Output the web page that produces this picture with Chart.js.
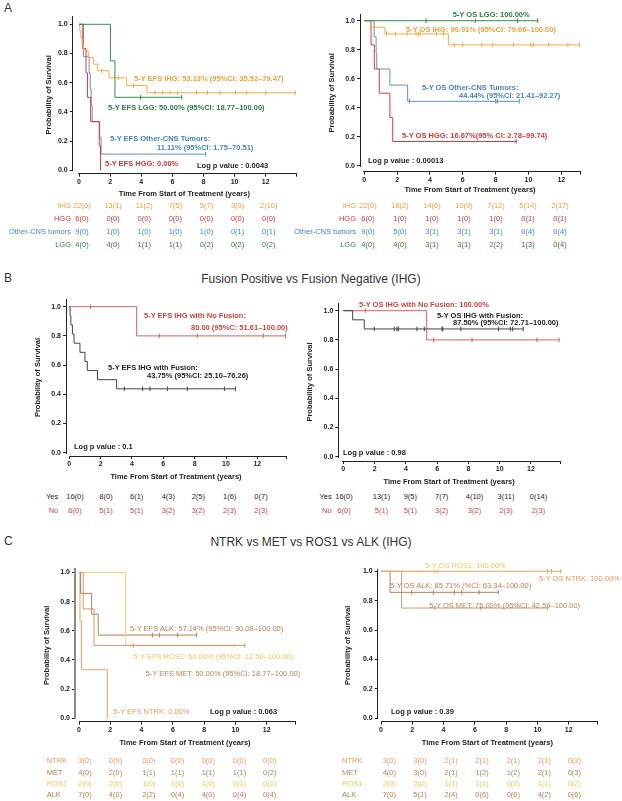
<!DOCTYPE html>
<html><head><meta charset="utf-8">
<script src="https://cdn.jsdelivr.net/npm/chart.js@4.4.1/dist/chart.umd.min.js"></script>
<style>
html,body{margin:0;padding:0;background:#fff;}
#page{position:relative;width:622px;height:801px;overflow:hidden;background:#fff;font-family:"Liberation Sans",Arial,Helvetica,sans-serif;}
canvas{position:absolute;}
.t{position:absolute;white-space:nowrap;line-height:1;}
</style></head><body><div id="page"></div>
<script>
// ================= DATA =================
const xTickValues = [0, 2, 4, 6, 8, 10, 12];
const yTickValues = [0, 0.2, 0.4, 0.6, 0.8, 1.0];
const xTitle = 'Time From Start of Treatment (years)';
const yTitle = 'Probability of Survival';
const timePoints = ['0', '2', '4', '6', '8', '10', '12'];

// Panel A – EFS (event times in years, survival after each event, censor times)
const aEfsIhgT = [0.05, 0.12, 0.2, 0.3, 0.6, 0.92, 1.2, 1.93, 3.06, 4.37];
const aEfsIhgS = [0.955, 0.909, 0.864, 0.818, 0.773, 0.727, 0.682, 0.633, 0.580, 0.531];
const aEfsIhgC = [1.45, 2.53, 3.49, 4.89, 5.36, 5.85, 6.34, 7.56, 8.25, 9.06, 10.07, 10.78, 12.0, 13.9];
const aEfsLggT = [2.02, 2.31];
const aEfsLggS = [0.75, 0.5];
const aEfsLggC = [3.96, 6.6];
const aEfsHggT = [0.25, 0.45, 0.55, 0.75, 1.3, 1.38];
const aEfsHggS = [0.833, 0.667, 0.5, 0.333, 0.167, 0];
const aEfsHggC = [];
const aEfsOthT = [0.28, 0.65, 0.72, 0.78, 0.85, 1.33, 1.42];
const aEfsOthS = [0.778, 0.667, 0.556, 0.444, 0.333, 0.222, 0.111];
const aEfsOthC = [8.14];

// Panel A – OS
const aOsIhgT = [0.4, 1.26, 5.12];
const aOsIhgS = [0.955, 0.909, 0.833];
const aOsIhgC = [1.36, 1.89, 2.6, 3.15, 3.29, 3.4, 4.4, 4.83, 5.48, 6.0, 7.15, 7.82, 9.08, 10.15, 10.3, 11.23, 12.4, 13.1];
const aOsLggT = [];
const aOsLggS = [];
const aOsLggC = [3.76, 6.76, 9.34, 10.56];
const aOsHggT = [0.41, 0.61, 0.91, 1.56, 1.73];
const aOsHggS = [0.833, 0.667, 0.5, 0.333, 0.167];
const aOsHggC = [9.25];
const aOsOthT = [0.6, 0.72, 0.76, 1.56, 2.64];
const aOsOthS = [0.889, 0.778, 0.667, 0.556, 0.444];
const aOsOthC = [2.75, 8.0, 8.1, 9.44];

// Panel B – EFS
const bEfsYesT = [0.05, 0.1, 0.2, 0.3, 0.68, 1.0, 1.15, 1.8, 3.02];
const bEfsYesS = [0.9375, 0.875, 0.8125, 0.75, 0.6875, 0.625, 0.5625, 0.5, 0.4375];
const bEfsYesC = [3.51, 4.68, 5.15, 6.26, 7.53, 9.9, 10.6];
const bEfsNoT = [4.3];
const bEfsNoS = [0.8];
const bEfsNoC = [1.36, 5.74, 8.17, 12.38, 13.8];
// Panel B – OS
const bOsYesT = [0.6, 1.34];
const bOsYesS = [0.9375, 0.875];
const bOsYesC = [1.98, 3.26, 3.43, 3.52, 4.71, 5.18, 6.31, 6.36, 7.52, 9.93, 10.68, 10.83, 11.5];
const bOsNoT = [5.33];
const bOsNoS = [0.8];
const bOsNoC = [1.41, 5.78, 8.23, 12.38, 13.8];

// Panel C – EFS
const cEfsNtrkT = [0.06, 0.15, 1.81];
const cEfsNtrkS = [0.667, 0.333, 0];
const cEfsNtrkC = [];
const cEfsMetT = [0.27, 0.96];
const cEfsMetS = [0.75, 0.5];
const cEfsMetC = [3.47, 10.6];
const cEfsRos1T = [2.98];
const cEfsRos1S = [0.5];
const cEfsRos1C = [9.93];
const cEfsAlkT = [0.1, 0.81, 1.23];
const cEfsAlkS = [0.857, 0.714, 0.571];
const cEfsAlkC = [4.69, 5.14, 6.29, 7.52];
// Panel C – OS
const cOsNtrkT = [];
const cOsNtrkS = [];
const cOsNtrkC = [10.65, 10.9, 11.5];
const cOsMetT = [1.32];
const cOsMetS = [0.75];
const cOsMetC = [3.45, 6.35, 10.65];
const cOsRos1T = [];
const cOsRos1S = [];
const cOsRos1C = [3.42, 3.62];
const cOsAlkT = [0.58];
const cOsAlkS = [0.857];
const cOsAlkC = [1.96, 3.35, 4.69, 5.16, 6.27, 7.5];

// Risk tables (number at risk (censored))
const aGroups = ['IHG', 'HGG', 'Other-CNS tumors', 'LGG'];
const aEfsRisk = [
  ['22(0)', '13(1)', '11(2)', '7(5)', '5(7)', '3(9)', '2(10)'],
  ['6(0)', '0(0)', '0(0)', '0(0)', '0(0)', '0(0)', '0(0)'],
  ['9(0)', '1(0)', '1(0)', '1(0)', '1(0)', '0(1)', '0(1)'],
  ['4(0)', '4(0)', '1(1)', '1(1)', '0(2)', '0(2)', '0(2)']
];
const aOsRisk = [
  ['22(0)', '18(2)', '14(6)', '10(9)', '7(12)', '5(14)', '2(17)'],
  ['6(0)', '1(0)', '1(0)', '1(0)', '1(0)', '0(1)', '0(1)'],
  ['9(0)', '5(0)', '3(1)', '3(1)', '3(1)', '0(4)', '0(4)'],
  ['4(0)', '4(0)', '3(1)', '3(1)', '2(2)', '1(3)', '0(4)']
];
const bGroups = ['Yes', 'No'];
const bEfsRisk = [
  ['16(0)', '8(0)', '6(1)', '4(3)', '2(5)', '1(6)', '0(7)'],
  ['6(0)', '5(1)', '5(1)', '3(2)', '3(2)', '2(3)', '2(3)']
];
const bOsRisk = [
  ['16(0)', '13(1)', '9(5)', '7(7)', '4(10)', '3(11)', '0(14)'],
  ['6(0)', '5(1)', '5(1)', '3(2)', '3(2)', '2(3)', '2(3)']
];
const cGroups = ['NTRK', 'MET', 'ROS1', 'ALK'];
const cEfsRisk = [
  ['3(0)', '0(0)', '0(0)', '0(0)', '0(0)', '0(0)', '0(0)'],
  ['4(0)', '2(0)', '1(1)', '1(1)', '1(1)', '1(1)', '0(2)'],
  ['2(0)', '2(0)', '1(0)', '1(0)', '1(0)', '0(1)', '0(1)'],
  ['7(0)', '4(0)', '2(2)', '0(4)', '4(0)', '0(4)', '0(4)']
];
const cOsRisk = [
  ['3(0)', '3(0)', '2(1)', '2(1)', '2(1)', '2(1)', '0(3)'],
  ['4(0)', '3(0)', '2(1)', '1(2)', '1(2)', '2(1)', '0(3)'],
  ['2(0)', '2(0)', '1(1)', '1(1)', '0(2)', '1(1)', '0(2)'],
  ['7(0)', '5(1)', '2(4)', '0(6)', '0(6)', '4(2)', '0(6)']
];

// Annotation texts
const aEfsNotes = ['5-Y EFS IHG: 53.13% (95%CI: 35.52\u201379.47)', '5-Y EFS LGG: 50.00% (95%CI: 18.77\u2013100.00)', '5-Y EFS Other-CNS Tumors:', '11.11% (95%CI: 1.75\u201370.51)', '5-Y EFS HGG: 0.00%', 'Log p value : 0.0043'];
const aOsNotes = ['5-Y OS LGG: 100.00%', '5-Y OS IHG: 90.91% (95%CI: 79.66\u2013100.00)', '5-Y OS Other-CNS Tumors:', '44.44% (95%CI: 21.41\u201392.27)', '5-Y OS HGG: 16.67%(95% CI: 2.78\u201399.74)', 'Log p value : 0.00013'];
const bEfsNotes = ['5-Y EFS IHG with No Fusion:', '80.00 (95%C: 51.61\u2013100.00)', '5-Y EFS IHG with Fusion:', '43.75% (95%CI: 25.10\u201376.26)', 'Log p value : 0.1'];
const bOsNotes = ['5-Y OS IHG with No Fusion: 100.00%', '5-Y OS IHG with Fusion:', '87.50% (95%CI: 72.71\u2013100.00)', 'Log p value : 0.98'];
const cEfsNotes = ['5-Y EFS ALK: 57.14% (95%CI: 30.08\u2013100.00)', '5-Y EFS ROS1: 50.00% (95%CI: 12.50\u2013100.00)', '5-Y EFS MET: 50.00% (95%CI: 18.77\u2013100.00)', '5-Y EFS NTRK: 0.00%', 'Log p value : 0.063'];
const cOsNotes = ['5-Y OS ROS1: 100.00%', '5-Y OS NTRK: 100.00%', '5-Y OS ALK: 85.71% (%CI: 63.34\u2013100.00)', '5-Y OS MET: 75.00% (95%CI: 42.59\u2013100.00)', 'Log p value : 0.39'];
const panelTitles = ['Fusion Positive vs Fusion Negative (IHG)', 'NTRK vs MET vs ROS1 vs ALK (IHG)'];

// ================= STYLE / LAYOUT =================
const FONT = '"Liberation Sans", Arial, Helvetica, sans-serif';
const COL = {
  ihg: '#eeaa44', ihgT: '#e9a23b', lgg: '#2f8f4f', lggT: '#2e7d45', hgg: '#e0363c', hggT: '#d4343a',
  oth: '#5b93c9', othT: '#4683bd', fus: '#444444', nof: '#d9605a', nofT: '#c9453f',
  ntrk: '#f0a060', ntrkT: '#e39a62', met: '#c79a6e', metT: '#b3855a', ros: '#f5d27a', rosT: '#f0c55a',
  alk: '#b97d55', alkT: '#c27b4d', ink: '#1e1e1e'
};
const gAL = {X0: 79, PX: 15.56, Y1: 24.3, Y0: 170.3, axX: 72.7, axY: 173.7, top: 15.7, end: 295.7, ytX: 48, xtY: 193.5};
const gAR = {X0: 364.3, PX: 16.42, Y1: 20.7, Y0: 165.7, axX: 360, axY: 171.7, top: 14, end: 580.3, ytX: 331, xtY: 189.5};
const gBL = {X0: 69.3, PX: 15.67, Y1: 306.7, Y0: 452.7, axX: 66, axY: 456, top: 299, end: 285.7, ytX: 37, xtY: 476.7};
const gBR = {X0: 343.3, PX: 15.64, Y1: 310.7, Y0: 456.7, axX: 338.3, axY: 461, top: 303.3, end: 559.7, ytX: 309, xtY: 481};
const gCL = {X0: 79, PX: 15.64, Y1: 572.5, Y0: 718.3, axX: 75, axY: 721.7, top: 569, end: 295, ytX: 46.7, xtY: 742.3};
const gCR = {X0: 381, PX: 15.64, Y1: 571.3, Y0: 718.3, axX: 377.7, axY: 721.7, top: 569, end: 597, ytX: 347.7, xtY: 742.3};

const page = document.getElementById('page');
function txt(s, x, y, o) {
  o = o || {};
  const d = document.createElement('div');
  d.className = 't';
  d.textContent = s;
  const f = o.size || 7.5;
  d.style.fontSize = f + 'px';
  d.style.fontWeight = o.weight || 'bold';
  d.style.color = o.color || COL.ink;
  d.style.top = (y - 0.49 * f) + 'px';
  d.style.left = x + 'px';
  if (o.align === 'right') d.style.transform = 'translateX(-100%)';
  else if (o.align === 'center') d.style.transform = 'translateX(-50%)';
  page.appendChild(d);
}

function kmPoints(t, s, c) {
  const pts = [{x: 0, y: 1}];
  t.forEach((v, i) => pts.push({x: v, y: s[i]}));
  const lastT = t.length ? t[t.length - 1] : 0;
  const lastC = c.length ? Math.max.apply(null, c) : 0;
  const lastS = s.length ? s[s.length - 1] : 1;
  if (lastC > lastT) pts.push({x: lastC, y: lastS});
  return pts;
}
function survAt(t, s, x) { let v = 1; t.forEach((ti, i) => { if (ti <= x) v = s[i]; }); return v; }
function curveSets(cv) {
  return [
    {data: kmPoints(cv.t, cv.s, cv.c), borderColor: cv.color, borderWidth: 1, pointRadius: 0, stepped: true, fill: false, clip: false},
    {data: cv.c.map(x => ({x: x, y: survAt(cv.t, cv.s, x)})), showLine: false, pointStyle: 'line', rotation: 90,
     pointRadius: 2.3, pointBorderWidth: 1, borderColor: cv.color, pointBorderColor: cv.color, backgroundColor: cv.color, clip: false}
  ];
}

// detaches the two axis lines at the origin corner (range-frame look)
const detachAxes = {
  id: 'detachAxes',
  afterDraw(chart) {
    const {ctx, chartArea, scales} = chart;
    const x0 = scales.x.getPixelForValue(0);
    const y0 = scales.y.getPixelForValue(0);
    const w = (scales.y.options.border.width || 1) + 3;
    ctx.clearRect(chartArea.left - w, chartArea.bottom - 1.5, x0 - 1 - (chartArea.left - w), 3);
    ctx.clearRect(chartArea.left - w / 2 - 1, y0 + 1, w + 2, chartArea.bottom + 2 - (y0 + 1));
  }
};

function makeKM(g, curves, yBorder) {
  const L = Math.round(g.ytX - 4.5), T = Math.round(g.top - 8), R = Math.round(g.end + 8), B = Math.round(g.xtY + 4.5);
  const cv = document.createElement('canvas');
  cv.width = R - L; cv.height = B - T;
  cv.style.left = L + 'px'; cv.style.top = T + 'px';
  cv.style.width = (R - L) + 'px'; cv.style.height = (B - T) + 'px';
  page.appendChild(cv);
  const yW = g.axX - L, xH = B - g.axY;
  const xmin = (g.axX - g.X0) / g.PX, xmax = (R - 8 - g.X0) / g.PX;
  const span = g.Y0 - g.Y1;
  const ymin = (g.Y0 - g.axY) / span, ymax = (g.Y0 - (T + 8)) / span;
  const ax = '#222';
  const tickFont = {family: FONT, size: 7, weight: 'bold'};
  const titleFont = {family: FONT, size: 7.5, weight: 'bold', lineHeight: 1.2};
  new Chart(cv, {
    type: 'line',
    data: {datasets: curves.flatMap(curveSets)},
    plugins: [detachAxes],
    options: {
      responsive: false, animation: false, devicePixelRatio: 1, events: [],
      layout: {padding: {top: 8, right: 8, left: 0, bottom: 0}},
      plugins: {legend: {display: false}, tooltip: {enabled: false}},
      scales: {
        x: {
          type: 'linear', position: 'bottom', min: xmin, max: xmax,
          afterFit: s => { s.height = xH; },
          afterBuildTicks: s => { s.ticks = xTickValues.concat([xmax]).map(v => ({value: v})); },
          ticks: {autoSkip: false, maxRotation: 0, padding: 1, color: ax, font: tickFont,
                  callback: (v, i) => (i < timePoints.length ? timePoints[i] : '')},
          grid: {drawOnChartArea: false, drawTicks: true, tickLength: 3, color: ax, lineWidth: 1},
          border: {display: true, color: ax, width: 1},
          title: {display: true, text: xTitle, color: ax, font: titleFont, padding: 0}
        },
        y: {
          type: 'linear', position: 'left', min: ymin, max: ymax,
          afterFit: s => { s.width = yW; },
          afterBuildTicks: s => { s.ticks = yTickValues.map(v => ({value: v})); },
          ticks: {autoSkip: false, padding: 2, color: ax, font: tickFont, callback: v => Number(v).toFixed(1)},
          grid: {drawOnChartArea: false, drawTicks: true, tickLength: 3, color: ax, lineWidth: 1},
          border: yBorder || {display: true, color: ax, width: 1},
          title: {display: true, text: yTitle, color: ax, font: titleFont, padding: 0}
        }
      }
    }
  });
}

function riskTable(groups, rows, rowY, colX, colors, labelX, labelAlign) {
  groups.forEach((gname, r) => {
    txt(gname, labelX, rowY[r], {size: 7.5, weight: 'normal', color: colors[r], align: labelAlign});
    rows[r].forEach((v, k) => txt(v, colX[k], rowY[r], {size: 7.5, weight: 'normal', color: colors[r], align: 'center'}));
  });
}

// ================= PANEL A =================
txt('A', 4, 8, {size: 12, weight: 'normal', color: '#333'});
makeKM(gAL, [
  {t: aEfsLggT, s: aEfsLggS, c: aEfsLggC, color: COL.lgg},
  {t: aEfsIhgT, s: aEfsIhgS, c: aEfsIhgC, color: COL.ihg},
  {t: aEfsHggT, s: aEfsHggS, c: aEfsHggC, color: COL.hgg},
  {t: aEfsOthT, s: aEfsOthS, c: aEfsOthC, color: COL.oth}
]);
makeKM(gAR, [
  {t: aOsLggT, s: aOsLggS, c: aOsLggC, color: COL.lgg},
  {t: aOsIhgT, s: aOsIhgS, c: aOsIhgC, color: COL.ihg},
  {t: aOsOthT, s: aOsOthS, c: aOsOthC, color: COL.oth},
  {t: aOsHggT, s: aOsHggS, c: aOsHggC, color: COL.hgg}
]);
txt(aEfsNotes[0], 134, 79, {color: COL.ihgT});
txt(aEfsNotes[1], 108, 108, {color: COL.lggT});
txt(aEfsNotes[2], 110, 139, {color: COL.othT});
txt(aEfsNotes[3], 157, 148, {color: COL.othT});
txt(aEfsNotes[4], 105, 164, {color: COL.hggT});
txt(aEfsNotes[5], 197, 166);
txt(aOsNotes[0], 452.7, 14.3, {color: COL.lggT});
txt(aOsNotes[1], 406, 30, {color: COL.ihgT});
txt(aOsNotes[2], 422, 87.3, {color: COL.othT});
txt(aOsNotes[3], 459, 96, {color: COL.othT});
txt(aOsNotes[4], 402, 135.7, {color: COL.hggT});
txt(aOsNotes[5], 368, 160.3);

const aRowY = [205.5, 218.5, 231.5, 244.5];
const aColors = [COL.ihgT, COL.hggT, COL.othT, COL.lggT];
const aLeftCols = xTickValues.map((v, k) => 82 + 31.12 * k);
const aRightCols = xTickValues.map((v, k) => 368 + 32 * k);
riskTable(aGroups, aEfsRisk, aRowY, aLeftCols, aColors, 71, 'right');
riskTable(aGroups, aOsRisk, aRowY, aRightCols, aColors, 356, 'right');

// ================= PANEL B =================
txt('B', 4, 278, {size: 12, weight: 'normal', color: '#333'});
txt(panelTitles[0], 311, 279, {size: 12, weight: 'normal', color: '#333', align: 'center'});
makeKM(gBL, [
  {t: bEfsYesT, s: bEfsYesS, c: bEfsYesC, color: COL.fus},
  {t: bEfsNoT, s: bEfsNoS, c: bEfsNoC, color: COL.nof}
]);
makeKM(gBR, [
  {t: bOsYesT, s: bOsYesS, c: bOsYesC, color: COL.fus},
  {t: bOsNoT, s: bOsNoS, c: bOsNoC, color: COL.nof}
]);
txt(bEfsNotes[0], 144, 316, {color: COL.nofT});
txt(bEfsNotes[1], 191, 327.3, {color: COL.nofT});
txt(bEfsNotes[2], 108, 367.3);
txt(bEfsNotes[3], 147, 376);
txt(bEfsNotes[4], 74, 446.7);
txt(bOsNotes[0], 359, 304.7, {color: COL.nofT});
txt(bOsNotes[1], 437, 315.3);
txt(bOsNotes[2], 453, 322.7);
txt(bOsNotes[3], 343, 452.7);
const bRowY = [496.5, 511];
const bColors = [COL.ink, COL.nofT];
riskTable(bGroups, bEfsRisk, bRowY, [75, 106, 136.7, 168.3, 198.3, 229.7, 261], bColors, 58.3, 'right');
riskTable(bGroups, bOsRisk, bRowY, [344, 381.5, 410.3, 441.7, 474.5, 506, 538.5], bColors, 331.7, 'right');

// ================= PANEL C =================
txt('C', 4, 541, {size: 12, weight: 'normal', color: '#333'});
txt(panelTitles[1], 311, 542, {size: 12, weight: 'normal', color: '#333', align: 'center'});
makeKM(gCL, [
  {t: cEfsMetT, s: cEfsMetS, c: cEfsMetC, color: COL.met},
  {t: cEfsRos1T, s: cEfsRos1S, c: cEfsRos1C, color: COL.ros},
  {t: cEfsAlkT, s: cEfsAlkS, c: cEfsAlkC, color: COL.alk},
  {t: cEfsNtrkT, s: cEfsNtrkS, c: cEfsNtrkC, color: COL.ntrk}
], {display: true, color: '#8a8a8a', width: 2});
makeKM(gCR, [
  {t: cOsNtrkT, s: cOsNtrkS, c: cOsNtrkC, color: COL.ntrk},
  {t: cOsRos1T, s: cOsRos1S, c: cOsRos1C, color: COL.ros},
  {t: cOsAlkT, s: cOsAlkS, c: cOsAlkC, color: COL.alk},
  {t: cOsMetT, s: cOsMetS, c: cOsMetC, color: COL.met}
]);
txt(cEfsNotes[0], 130, 628.3, {color: COL.alkT, weight: 'normal'});
txt(cEfsNotes[1], 133.3, 656.7, {color: COL.rosT, weight: 'normal'});
txt(cEfsNotes[2], 145.7, 673.3, {color: COL.metT, weight: 'normal'});
txt(cEfsNotes[3], 113.3, 711.7, {color: COL.ntrkT, weight: 'normal'});
txt(cEfsNotes[4], 210, 711.7);
txt(cOsNotes[0], 425, 565.5, {color: COL.rosT, weight: 'normal'});
txt(cOsNotes[1], 539, 578.3, {color: COL.ntrkT, weight: 'normal'});
txt(cOsNotes[2], 390, 586, {color: COL.alkT, weight: 'normal'});
txt(cOsNotes[3], 429.3, 605.7, {color: COL.metT, weight: 'normal'});
txt(cOsNotes[4], 391, 711.7);
const cRowY = [760.7, 772.3, 783.7, 795];
const cColors = [COL.ntrkT, COL.metT, COL.rosT, COL.alkT];
riskTable(cGroups, cEfsRisk, cRowY, [85, 115.5, 148.8, 177.5, 208.3, 239.5, 269.7], cColors, 46.7, 'left');
riskTable(cGroups, cOsRisk, cRowY, [389.3, 420, 451, 482, 513.3, 544.3, 574.3], cColors, 342, 'left');
</script></body></html>
